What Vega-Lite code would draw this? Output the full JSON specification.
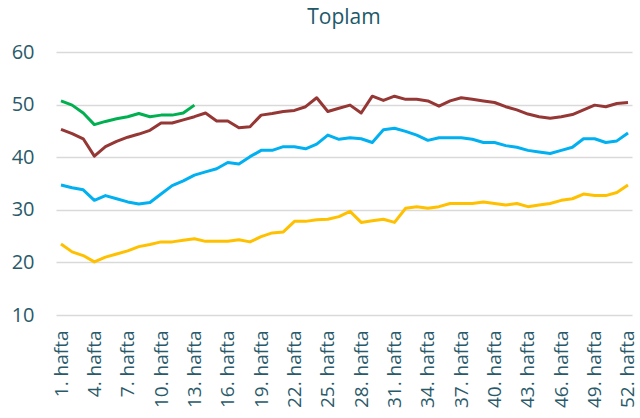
{
  "$schema": "https://vega.github.io/schema/vega-lite/v6.json",
  "width": 576,
  "height": 263,
  "autosize": {"type": "none"},
  "padding": {"left": 56, "top": 52, "right": 8, "bottom": 103},
  "background": "white",
  "title": {"text": "Toplam", "font": "Open Sans", "fontSize": 21, "fontWeight": "normal", "color": "#215868", "anchor": "middle", "offset": 14},
  "config": {"view": {"stroke": null}},
  "data": {"values": [
    {"w":1,"s":"A","v":50.7},{"w":2,"s":"A","v":49.9},{"w":3,"s":"A","v":48.4},{"w":4,"s":"A","v":46.2},{"w":5,"s":"A","v":46.8},{"w":6,"s":"A","v":47.3},{"w":7,"s":"A","v":47.7},{"w":8,"s":"A","v":48.3},{"w":9,"s":"A","v":47.7},{"w":10,"s":"A","v":48.0},{"w":11,"s":"A","v":48.0},{"w":12,"s":"A","v":48.4},{"w":13,"s":"A","v":49.9},
    {"w":1,"s":"B","v":45.3},{"w":2,"s":"B","v":44.5},{"w":3,"s":"B","v":43.5},{"w":4,"s":"B","v":40.2},{"w":5,"s":"B","v":42.0},{"w":6,"s":"B","v":43.0},{"w":7,"s":"B","v":43.8},{"w":8,"s":"B","v":44.4},{"w":9,"s":"B","v":45.1},{"w":10,"s":"B","v":46.5},{"w":11,"s":"B","v":46.5},{"w":12,"s":"B","v":47.1},{"w":13,"s":"B","v":47.7},{"w":14,"s":"B","v":48.4},{"w":15,"s":"B","v":46.9},{"w":16,"s":"B","v":46.9},{"w":17,"s":"B","v":45.6},{"w":18,"s":"B","v":45.8},{"w":19,"s":"B","v":48.0},{"w":20,"s":"B","v":48.3},{"w":21,"s":"B","v":48.7},{"w":22,"s":"B","v":48.9},{"w":23,"s":"B","v":49.6},{"w":24,"s":"B","v":51.3},{"w":25,"s":"B","v":48.7},{"w":26,"s":"B","v":49.3},{"w":27,"s":"B","v":49.9},{"w":28,"s":"B","v":48.4},{"w":29,"s":"B","v":51.6},{"w":30,"s":"B","v":50.8},{"w":31,"s":"B","v":51.6},{"w":32,"s":"B","v":51.0},{"w":33,"s":"B","v":51.0},{"w":34,"s":"B","v":50.7},{"w":35,"s":"B","v":49.7},{"w":36,"s":"B","v":50.7},{"w":37,"s":"B","v":51.3},{"w":38,"s":"B","v":51.0},{"w":39,"s":"B","v":50.7},{"w":40,"s":"B","v":50.4},{"w":41,"s":"B","v":49.6},{"w":42,"s":"B","v":49.0},{"w":43,"s":"B","v":48.2},{"w":44,"s":"B","v":47.7},{"w":45,"s":"B","v":47.4},{"w":46,"s":"B","v":47.7},{"w":47,"s":"B","v":48.1},{"w":48,"s":"B","v":49.0},{"w":49,"s":"B","v":49.9},{"w":50,"s":"B","v":49.6},{"w":51,"s":"B","v":50.2},{"w":52,"s":"B","v":50.4},
    {"w":1,"s":"C","v":34.7},{"w":2,"s":"C","v":34.2},{"w":3,"s":"C","v":33.8},{"w":4,"s":"C","v":31.8},{"w":5,"s":"C","v":32.7},{"w":6,"s":"C","v":32.1},{"w":7,"s":"C","v":31.5},{"w":8,"s":"C","v":31.1},{"w":9,"s":"C","v":31.4},{"w":10,"s":"C","v":33.0},{"w":11,"s":"C","v":34.6},{"w":12,"s":"C","v":35.5},{"w":13,"s":"C","v":36.6},{"w":14,"s":"C","v":37.2},{"w":15,"s":"C","v":37.8},{"w":16,"s":"C","v":39.0},{"w":17,"s":"C","v":38.7},{"w":18,"s":"C","v":40.1},{"w":19,"s":"C","v":41.3},{"w":20,"s":"C","v":41.3},{"w":21,"s":"C","v":42.0},{"w":22,"s":"C","v":42.0},{"w":23,"s":"C","v":41.6},{"w":24,"s":"C","v":42.5},{"w":25,"s":"C","v":44.2},{"w":26,"s":"C","v":43.4},{"w":27,"s":"C","v":43.7},{"w":28,"s":"C","v":43.5},{"w":29,"s":"C","v":42.8},{"w":30,"s":"C","v":45.2},{"w":31,"s":"C","v":45.5},{"w":32,"s":"C","v":44.9},{"w":33,"s":"C","v":44.2},{"w":34,"s":"C","v":43.2},{"w":35,"s":"C","v":43.7},{"w":36,"s":"C","v":43.7},{"w":37,"s":"C","v":43.7},{"w":38,"s":"C","v":43.4},{"w":39,"s":"C","v":42.8},{"w":40,"s":"C","v":42.8},{"w":41,"s":"C","v":42.2},{"w":42,"s":"C","v":41.9},{"w":43,"s":"C","v":41.3},{"w":44,"s":"C","v":41.0},{"w":45,"s":"C","v":40.7},{"w":46,"s":"C","v":41.3},{"w":47,"s":"C","v":41.9},{"w":48,"s":"C","v":43.5},{"w":49,"s":"C","v":43.5},{"w":50,"s":"C","v":42.8},{"w":51,"s":"C","v":43.1},{"w":52,"s":"C","v":44.6},
    {"w":1,"s":"D","v":23.5},{"w":2,"s":"D","v":22.0},{"w":3,"s":"D","v":21.3},{"w":4,"s":"D","v":20.1},{"w":5,"s":"D","v":21.0},{"w":6,"s":"D","v":21.6},{"w":7,"s":"D","v":22.2},{"w":8,"s":"D","v":23.0},{"w":9,"s":"D","v":23.4},{"w":10,"s":"D","v":23.9},{"w":11,"s":"D","v":23.9},{"w":12,"s":"D","v":24.2},{"w":13,"s":"D","v":24.5},{"w":14,"s":"D","v":24.0},{"w":15,"s":"D","v":24.0},{"w":16,"s":"D","v":24.0},{"w":17,"s":"D","v":24.3},{"w":18,"s":"D","v":23.9},{"w":19,"s":"D","v":24.9},{"w":20,"s":"D","v":25.6},{"w":21,"s":"D","v":25.8},{"w":22,"s":"D","v":27.8},{"w":23,"s":"D","v":27.8},{"w":24,"s":"D","v":28.1},{"w":25,"s":"D","v":28.2},{"w":26,"s":"D","v":28.7},{"w":27,"s":"D","v":29.7},{"w":28,"s":"D","v":27.6},{"w":29,"s":"D","v":27.9},{"w":30,"s":"D","v":28.2},{"w":31,"s":"D","v":27.6},{"w":32,"s":"D","v":30.3},{"w":33,"s":"D","v":30.6},{"w":34,"s":"D","v":30.3},{"w":35,"s":"D","v":30.6},{"w":36,"s":"D","v":31.2},{"w":37,"s":"D","v":31.2},{"w":38,"s":"D","v":31.2},{"w":39,"s":"D","v":31.5},{"w":40,"s":"D","v":31.2},{"w":41,"s":"D","v":30.9},{"w":42,"s":"D","v":31.2},{"w":43,"s":"D","v":30.6},{"w":44,"s":"D","v":30.9},{"w":45,"s":"D","v":31.2},{"w":46,"s":"D","v":31.8},{"w":47,"s":"D","v":32.1},{"w":48,"s":"D","v":33.0},{"w":49,"s":"D","v":32.7},{"w":50,"s":"D","v":32.7},{"w":51,"s":"D","v":33.3},{"w":52,"s":"D","v":34.7}
  ]},
  "mark": {"type": "line", "strokeWidth": 3, "strokeJoin": "round"},
  "encoding": {
    "x": {"field": "w", "type": "quantitative",
      "scale": {"domain": [0.55, 52.36], "nice": false, "zero": false},
      "axis": {"values": [1,4,7,10,13,16,19,22,25,28,31,34,37,40,43,46,49,52], "labelExpr": "datum.value + '. hafta'", "labelAngle": -90, "labelAlign": "right", "labelBaseline": "middle", "labelFont": "Open Sans", "labelFontSize": 19, "labelColor": "#2A5A6A", "labelPadding": 15, "ticks": false, "domain": false, "grid": false, "title": null, "labelOverlap": false}},
    "y": {"field": "v", "type": "quantitative",
      "scale": {"domain": [10, 60], "nice": false, "zero": false},
      "axis": {"values": [10,20,30,40,50,60], "labelFont": "Open Sans", "labelFontSize": 20, "labelColor": "#2A5A6A", "labelPadding": 22, "ticks": false, "domain": false, "grid": true, "gridColor": "#D9D9D9", "gridWidth": 1.5, "title": null}},
    "color": {"field": "s", "type": "nominal", "legend": null,
      "scale": {"domain": ["A","B","C","D"], "range": ["#00B050","#953735","#00B0F0","#FFC000"]}}
  }
}
